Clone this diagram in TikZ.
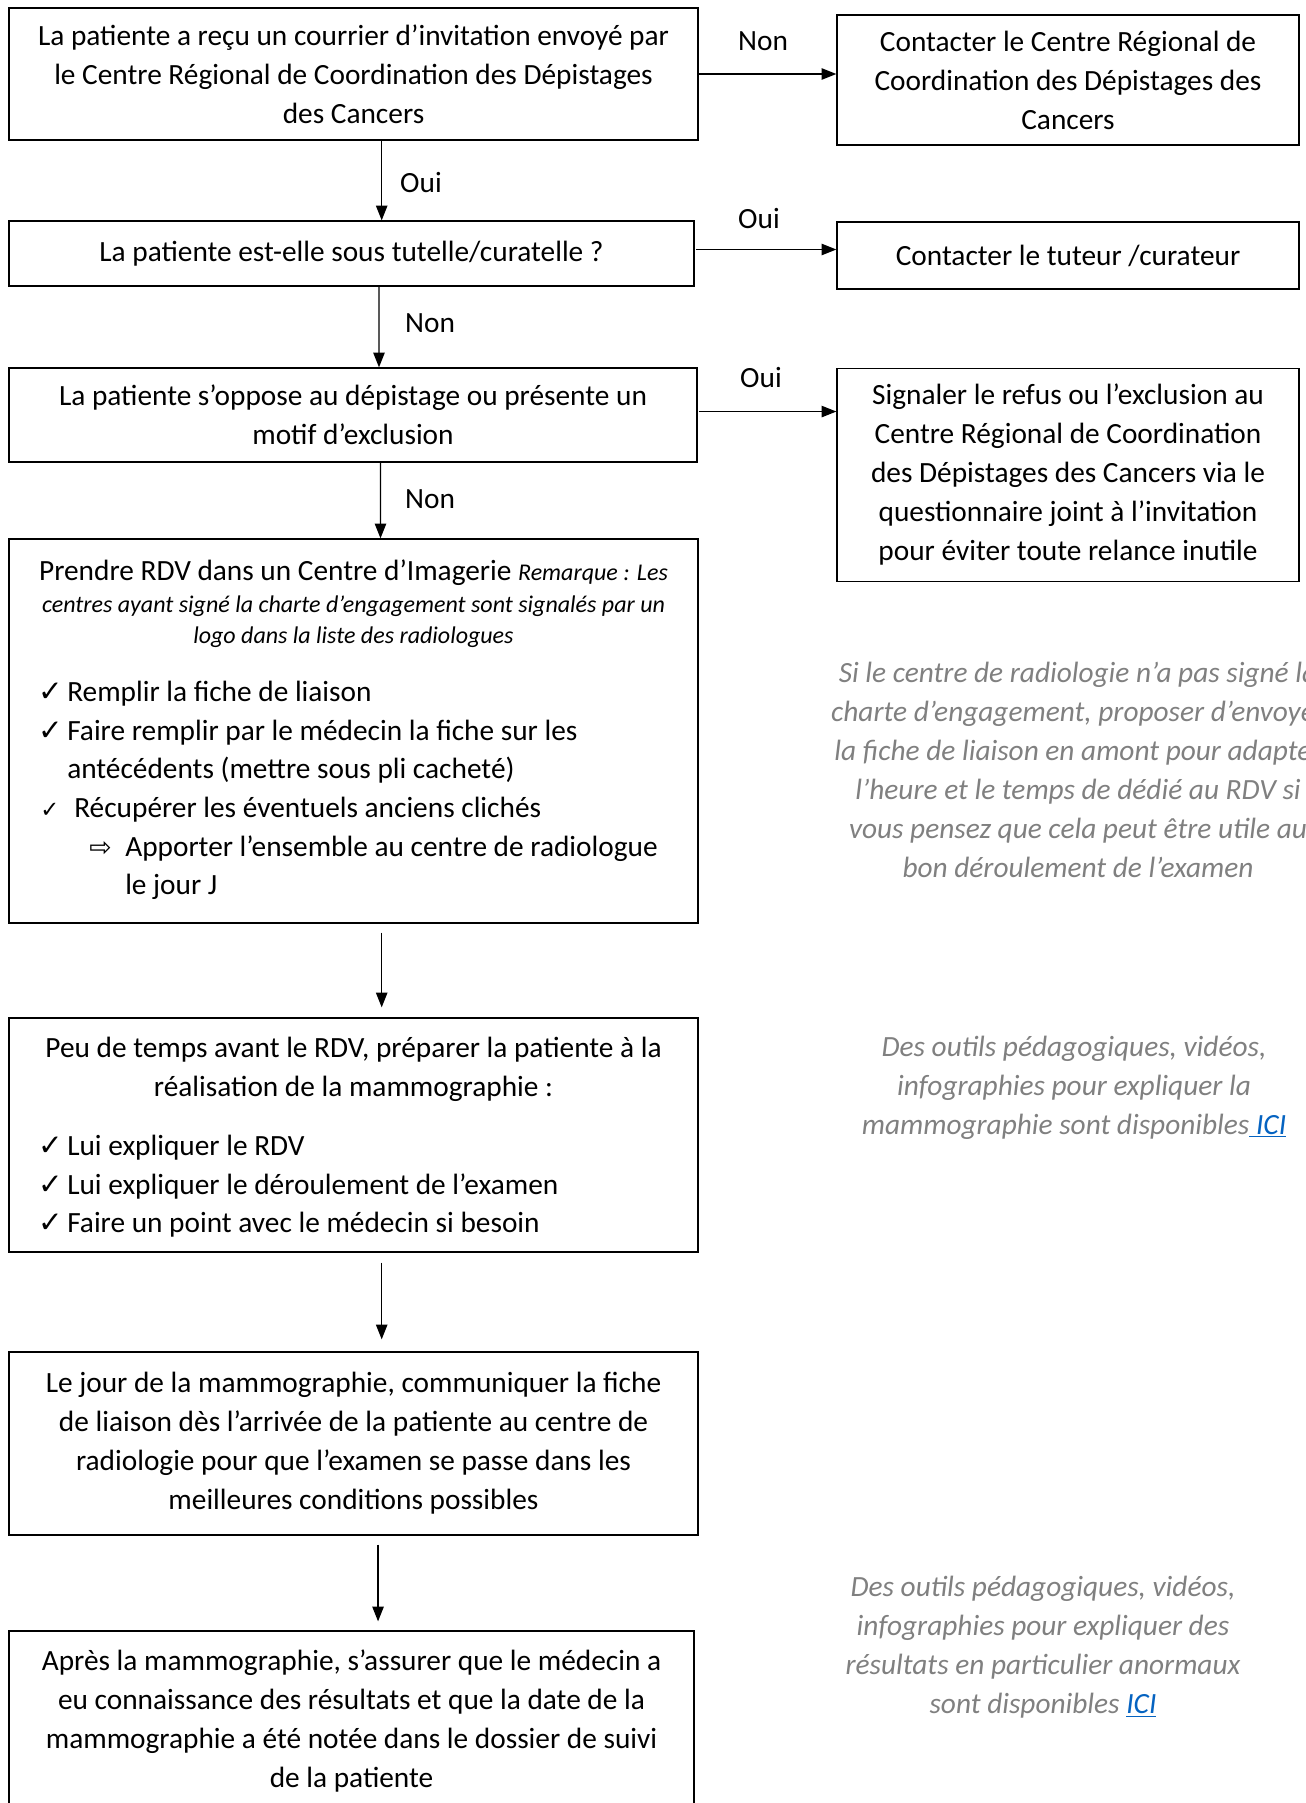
\documentclass[tikz,border=0pt]{standalone}
\usepackage{fontspec}
\setmainfont{Carlito}
\newfontfamily\symf{DejaVu Sans}
\usetikzlibrary{arrows.meta}
\definecolor{notegray}{RGB}{128,128,128}
\definecolor{linkblue}{RGB}{5,99,193}
\newcommand\mainf{\fontsize{22pt}{29.25pt}\selectfont}
\newcommand\notef{\fontsize{22pt}{29.25pt}\selectfont\itshape}
\newcommand\smallit{\fontsize{18pt}{23.25pt}\selectfont\itshape}
\newcommand\chk{{\symf\fontsize{22pt}{22pt}\selectfont ✓}}
\newcommand\chks{{\symf\fontsize{17pt}{17pt}\selectfont ✓}}
\newcommand\warr{{\symf\fontsize{20pt}{20pt}\selectfont ⇨}}
\tikzset{
  box/.style={draw=black, line width=1pt, inner sep=0pt, align=center, font=\mainf},
  arr/.style={-{Triangle[length=11pt,width=8.5pt]}, line width=1pt},
  lab/.style={font=\mainf, inner sep=0pt},
  txt/.style={font=\mainf, inner sep=0pt},
  itx/.style={font=\smallit, inner sep=0pt},
  note/.style={font=\notef, text=notegray, align=center, inner sep=0pt},
}
\begin{document}
\begin{tikzpicture}[x=0.75pt,y=-0.75pt]
\useasboundingbox (0,0) rectangle (1306,1803);
\fill[white] (0,0) rectangle (1306,1803);

% left column boxes
\node[box, minimum width=516.75pt, minimum height=99pt] (b1) at (353.5,74)
  {La patiente a reçu un courrier d’invitation envoyé par\\le Centre Régional de Coordination des Dépistages\\des Cancers};
\node[box, minimum width=513.75pt, minimum height=48.75pt] (b2) at (351.5,253.5)
  {La patiente est-elle sous tutelle/curatelle ?};
\node[box, minimum width=516pt, minimum height=70.5pt] (b3) at (353,415)
  {La patiente s’oppose au dépistage ou présente un\\motif d’exclusion};
\node[box, minimum width=516.75pt, minimum height=288pt] (b4) at (353.5,731) {};
\node[box, minimum width=516.75pt, minimum height=175.5pt] (b5) at (353.5,1135) {};
\node[box, minimum width=516.75pt, minimum height=137.25pt] (b6) at (353.5,1443.5)
  {Le jour de la mammographie, communiquer la fiche\\de liaison dès l’arrivée de la patiente au centre de\\radiologie pour que l’examen se passe dans les\\meilleures conditions possibles};
\node[box, minimum width=513.75pt, minimum height=135pt] (b7) at (351.5,1721)
  {Après la mammographie, s’assurer que le médecin a\\eu connaissance des résultats et que la date de la\\mammographie a été notée dans le dossier de suivi\\de la patiente};

% right column boxes
\node[box, minimum width=346.5pt, minimum height=97.5pt] (r1) at (1068,80)
  {Contacter le Centre Régional de\\Coordination des Dépistages des\\Cancers};
\node[box, minimum width=346.5pt, minimum height=50.25pt] (r2) at (1068,255.5)
  {Contacter le tuteur /curateur};
\node[box, minimum width=346.5pt, minimum height=159.75pt] (r3) at (1068,475)
  {Signaler le refus ou l’exclusion au\\Centre Régional de Coordination\\des Dépistages des Cancers via le\\questionnaire joint à l’invitation\\pour éviter toute relance inutile};

% box 4 content
\node[txt, anchor=base] (t4a) at (353.5,580)
  {Prendre RDV dans un Centre d’Imagerie {\smallit Remarque : Les}};
\node[itx, anchor=base] (t4b) at (353.5,612)
  {centres ayant signé la charte d’engagement sont signalés par un};
\node[itx, anchor=base] (t4c) at (353.5,643)
  {logo dans la liste des radiologues};
\node[txt, anchor=base west] (k41) at (38,701) {\chk};
\node[txt, anchor=base west] (l41) at (67,701) {Remplir la fiche de liaison};
\node[txt, anchor=base west] (k42) at (38,740) {\chk};
\node[txt, anchor=base west] (l42) at (67,740) {Faire remplir par le médecin la fiche sur les};
\node[txt, anchor=base west] (l42b) at (67,778) {antécédents (mettre sous pli cacheté)};
\node[txt, anchor=base west] (k43) at (40,817) {\chks};
\node[txt, anchor=base west] (l43) at (74,817) {Récupérer les éventuels anciens clichés};
\node[txt, anchor=base west] (k44) at (89,856) {\warr};
\node[txt, anchor=base west] (l44) at (125,856) {Apporter l’ensemble au centre de radiologue};
\node[txt, anchor=base west] (l44b) at (125,894) {le jour J};

% box 5 content
\node[txt, anchor=base] (t5a) at (353.5,1057)
  {Peu de temps avant le RDV, préparer la patiente à la};
\node[txt, anchor=base] (t5b) at (353.5,1096)
  {réalisation de la mammographie :};
\node[txt, anchor=base west] (k51) at (38,1155) {\chk};
\node[txt, anchor=base west] (l51) at (67,1155) {Lui expliquer le RDV};
\node[txt, anchor=base west] (k52) at (38,1194) {\chk};
\node[txt, anchor=base west] (l52) at (67,1194) {Lui expliquer le déroulement de l’examen};
\node[txt, anchor=base west] (k53) at (38,1232) {\chk};
\node[txt, anchor=base west] (l53) at (67,1232) {Faire un point avec le médecin si besoin};

% side notes
\node[note] (n1) at (1078,770)
  {Si le centre de radiologie n’a pas signé la\\charte d’engagement, proposer d’envoyer\\la fiche de liaison en amont pour adapter\\l’heure et le temps de dédié au RDV si\\vous pensez que cela peut être utile au\\bon déroulement de l’examen};
\node[note] (n2) at (1074,1088)
  {Des outils pédagogiques, vidéos,\\infographies pour expliquer la\\mammographie sont disponibles{\color{linkblue}\underline{\ ICI}}};
\node[note] (n3) at (1043,1647.5)
  {Des outils pédagogiques, vidéos,\\infographies pour expliquer des\\résultats en particulier anormaux\\sont disponibles {\color{linkblue}\underline{ICI}}};

% horizontal connectors
\draw[arr] (b1.east) -- (b1.east -| r1.west);
\draw[arr] ([yshift=3pt,xshift=1pt]b2.east) -- ([yshift=3pt]b2.east -| r2.west);
\draw[arr] ([yshift=2.6pt,xshift=1pt]b3.east) -- ([yshift=2.6pt]b3.east -| r3.west);
\node[lab] (lnon1) at (763,41) {Non};
\node[lab] (loui2) at (759,219) {Oui};
\node[lab] (loui3) at (761,378) {Oui};

% vertical connectors
\draw[arr] ([xshift=21.15pt]b1.south) -- ([xshift=22.65pt]b2.north);
\draw[arr] ([xshift=20.6pt]b2.south) -- ([xshift=19.5pt]b3.north);
\draw[arr] ([xshift=20.6pt]b3.south) -- ([xshift=20.25pt]b4.north);
\draw[arr] ([xshift=21.15pt,yshift=-6.75pt]b4.south) -- ([xshift=21.15pt,yshift=7.5pt]b5.north);
\draw[arr] ([xshift=21.15pt,yshift=-7.5pt]b5.south) -- ([xshift=21.15pt,yshift=9pt]b6.north);
\draw[arr] ([xshift=18.4pt,yshift=-6.75pt]b6.south) -- ([xshift=19.9pt,yshift=6.75pt]b7.north);
\node[lab] (loui1) at (421,183) {Oui};
\node[lab] (lnon2) at (430,323) {Non};
\node[lab] (lnon3) at (430,499) {Non};
\end{tikzpicture}
\end{document}
